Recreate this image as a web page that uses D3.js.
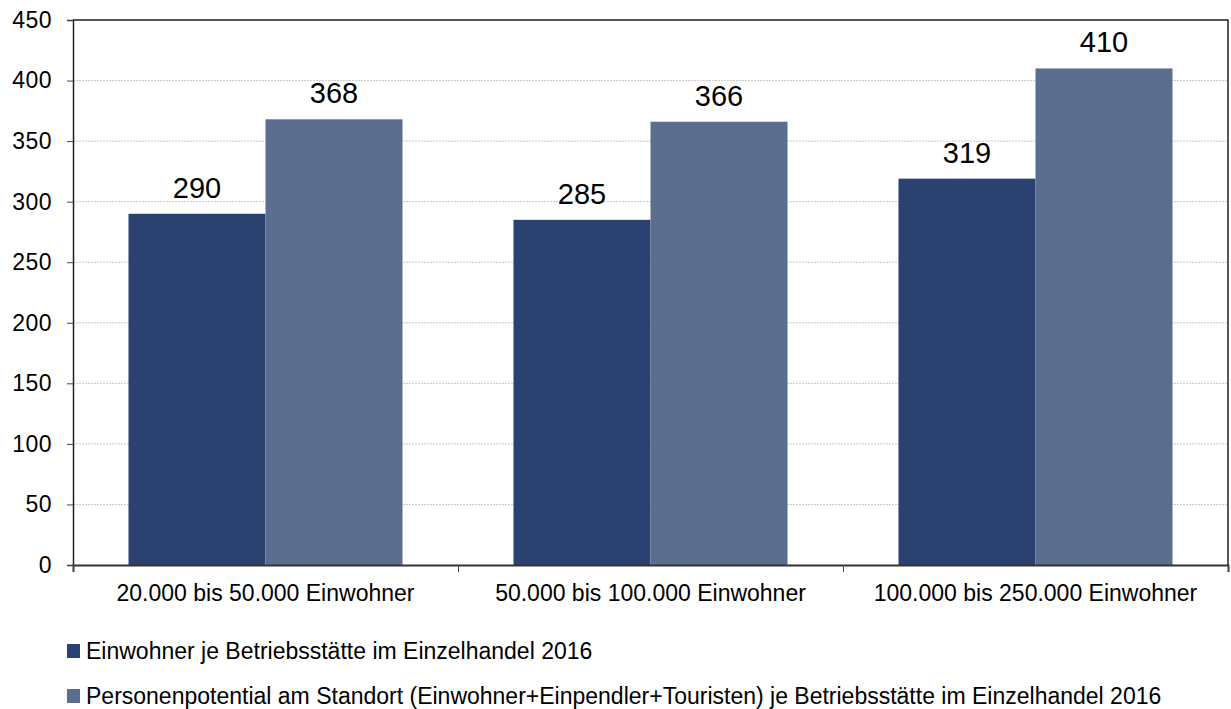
<!DOCTYPE html>
<html lang="de">
<head>
    <meta charset="UTF-8">
    <title>Einwohner je Betriebsstätte</title>
    <script src="https://d3js.org/d3.v7.min.js"></script>
    <style>
        body {
            margin: 0;
            background: #fff;
            font-family: "Liberation Sans", Arial, sans-serif;
        }
        .y-axis text {
            font-size: 23px;
            letter-spacing: 0.5px;
            fill: #000;
        }
        .cat-label {
            font-size: 23px;
            fill: #000;
        }
        .grid line {
            stroke: #c8c8c8;
            stroke-dasharray: 2,1;
        }
        .value-label {
            font-size: 29px;
            text-anchor: middle;
        }
        .legend text {
            font-size: 23px;
        }
    </style>
</head>
<body>
    <svg id="chart" width="1231" height="709"></svg>

    <script>
        const categories = ["20.000 bis 50.000 Einwohner", "50.000 bis 100.000 Einwohner", "100.000 bis 250.000 Einwohner"];
        const seriesNames = [
            "Einwohner je Betriebsstätte im Einzelhandel 2016",
            "Personenpotential am Standort (Einwohner+Einpendler+Touristen) je Betriebsstätte im Einzelhandel 2016"
        ];
        const einwohner = [290, 285, 319];
        const personenpotential = [368, 366, 410];
        const yTicks = [0, 50, 100, 150, 200, 250, 300, 350, 400, 450];
        const colors = ["#2b4170", "#5b6e8f"];

        const margin = {top: 20, right: 3, bottom: 144, left: 73},
              width = 1231 - margin.left - margin.right,
              height = 709 - margin.top - margin.bottom;

        const svg = d3.select("#chart").append("g")
            .attr("transform", `translate(${margin.left},${margin.top})`);

        const x = d3.scaleBand().domain(categories).range([0, width]).paddingInner(0).paddingOuter(0);
        const x1 = d3.scaleBand().domain([0, 1]).range([0, x.bandwidth()]).paddingInner(0).paddingOuter(0.405);
        const y = d3.scaleLinear().domain([0, 450]).range([height, 0]);

        // gridlines
        svg.append("g").attr("class", "grid")
            .selectAll("line")
            .data(yTicks.filter(d => d > 0 && d < 450))
            .enter().append("line")
            .attr("x1", 0).attr("x2", width)
            .attr("y1", d => y(d)).attr("y2", d => y(d));

        // bars
        const rows = categories.map((c, i) => ({cat: c, values: [einwohner[i], personenpotential[i]]}));
        const groups = svg.selectAll(".group")
            .data(rows)
            .enter().append("g")
            .attr("class", "group")
            .attr("transform", d => `translate(${x(d.cat)},0)`);

        groups.selectAll("rect")
            .data(d => d.values.map((v, k) => ({k, v})))
            .enter().append("rect")
            .attr("x", d => x1(d.k))
            .attr("y", d => y(d.v))
            .attr("width", x1.bandwidth())
            .attr("height", d => height - y(d.v))
            .attr("fill", d => colors[d.k]);

        groups.selectAll(".value-label")
            .data(d => d.values.map((v, k) => ({k, v})))
            .enter().append("text")
            .attr("class", "value-label")
            .attr("x", d => x1(d.k) + x1.bandwidth() / 2)
            .attr("y", d => y(d.v) - 16)
            .text(d => d.v);

        // plot border (top, right)
        svg.append("path")
            .attr("d", `M0,0H${width}V${height}`)
            .attr("fill", "none")
            .attr("stroke", "#222")
            .attr("stroke-width", 1.5);

        // axes
        const yAxis = d3.axisLeft(y).tickValues(yTicks).tickSize(6).tickPadding(15);
        svg.append("g").attr("class", "y-axis").call(yAxis)
            .call(g => g.attr("font-size", null).attr("font-family", null))
            .call(g => g.select(".domain").attr("stroke", "#222").attr("stroke-width", 1.5))
            .call(g => g.selectAll(".tick line").attr("stroke", "#444"));

        const xAxis = d3.axisBottom(d3.scaleLinear().domain([0, 3]).range([0, width]))
            .tickValues([0, 1, 2, 3]).tickSize(7).tickFormat("");
        svg.append("g").attr("transform", `translate(0,${height})`).call(xAxis)
            .call(g => g.select(".domain").attr("stroke", "#333").attr("stroke-width", 2))
            .call(g => g.selectAll(".tick line").attr("stroke", "#444"));

        svg.append("g").selectAll("text")
            .data(categories)
            .enter().append("text")
            .attr("class", "cat-label")
            .attr("x", d => x(d) + x.bandwidth() / 2)
            .attr("y", height + 36)
            .attr("text-anchor", "middle")
            .text(d => d);

        // legend
        const legend = d3.select("#chart").append("g").attr("class", "legend")
            .selectAll("g")
            .data(seriesNames)
            .enter().append("g")
            .attr("transform", (d, i) => `translate(67,${644 + i * 45})`);
        legend.append("rect").attr("width", 13).attr("height", 14).attr("fill", (d, i) => colors[i]);
        legend.append("text").attr("x", 19).attr("y", 15).text(d => d);
    </script>
</body>
</html>
